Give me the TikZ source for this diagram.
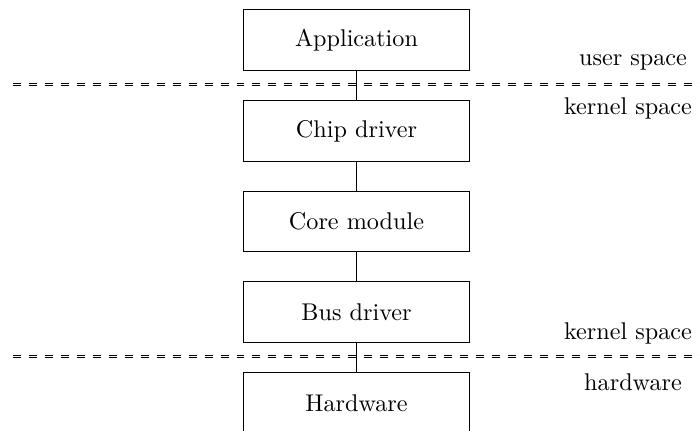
\documentclass[tikz,border=0pt]{standalone}
\begin{document}
\begin{tikzpicture}[
  x=0.4134pt, y=-0.4134pt,
  layer/.style={draw, minimum width=93.8pt, minimum height=25.1pt, inner sep=0pt},
  boundary/.style={double, dash pattern=on 3.3pt off 3.3pt, line width=0.4pt},
  link/.style={draw},
  zone/.style={inner sep=0pt}
]
\useasboundingbox (0,0) rectangle (700,430);
\clip (0,0) rectangle (700,430);

% space boundaries
\coordinate (b1l) at (13,84.5);
\coordinate (b1r) at (710,84.5);
\coordinate (b2l) at (13,356.5);
\coordinate (b2r) at (710,356.5);
\draw[boundary] (b1l) -- (b1r);
\draw[boundary] (b2l) -- (b2r);

% software stack
\node[layer] (app)  at (356.5,40)    {Application};
\node[layer] (chip) at (356.5,131)   {Chip driver};
\node[layer] (core) at (356.5,221.5) {Core module};
\node[layer] (bus)  at (356.5,312)   {Bus driver};
\node[layer] (hw)   at (356.5,403)   {Hardware};

\draw[link] (app) -- (chip);
\draw[link] (chip) -- (core);
\draw[link] (core) -- (bus);
\draw[link] (bus) -- (hw);

% zone labels
\node[zone] (us)  at (633,62)  {user space};
\node[zone] (ks1) at (628,108) {kernel space};
\node[zone] (ks2) at (628,333) {kernel space};
\node[zone] (hwz) at (633,382) {hardware};
\end{tikzpicture}
\end{document}
